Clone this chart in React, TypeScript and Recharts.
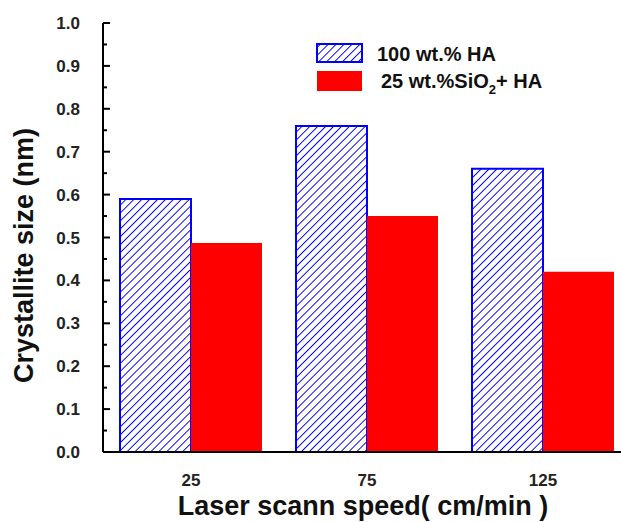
import React from 'react';
import { BarChart, Bar, XAxis, YAxis } from 'recharts';

const speeds = ['25', '75', '125'];
const ha100 = [0.59, 0.76, 0.66];
const sio2Ha = [0.487, 0.55, 0.42];
const yTicks = [0, 0.05, 0.1, 0.15, 0.2, 0.25, 0.3, 0.35, 0.4, 0.45, 0.5, 0.55, 0.6, 0.65, 0.7, 0.75, 0.8, 0.85, 0.9, 0.95, 1.0];
const majorTicks = [0, 0.1, 0.2, 0.3, 0.4, 0.5, 0.6, 0.7, 0.8, 0.9, 1.0];
const seriesKeys = ['ha', 'sio'];

const data = speeds.map((s, i) => ({ speed: s, ha: ha100[i], sio: sio2Ha[i] }));

const FONT = '"Liberation Sans", Arial, sans-serif';

const YTick = (props: any) => {
  const { x, y, payload } = props;
  const v = payload.value;
  const major = majorTicks.some((m) => Math.abs(m - v) < 1e-6);
  return (
    <g>
      <line x1={x} x2={x + (major ? 7 : 4)} y1={y} y2={y} stroke="#000" strokeWidth={2} />
      {major && (
        <text x={x - 23} y={y + 6} textAnchor="end" fontFamily={FONT} fontWeight="bold" fontSize={17} fill="#222">
          {v.toFixed(1)}
        </text>
      )}
    </g>
  );
};

const XTick = (props: any) => {
  const { x, y, payload } = props;
  return (
    <text x={x} y={y + 26} textAnchor="middle" fontFamily={FONT} fontWeight="bold" fontSize={17} fill="#222">
      {payload.value}
    </text>
  );
};

const LegendBox = () => {
  return (
    <svg width={290} height={60} style={{ display: 'block' }}>
      <defs>
        <pattern id="hatchL" patternUnits="userSpaceOnUse" width="5.6" height="5.6" patternTransform="rotate(45)">
          <line x1="0" y1="0" x2="0" y2="5.6" stroke="#0000ff" strokeWidth="1.9" />
        </pattern>
      </defs>
      {seriesKeys.map((key, i) => {
        const isHa = key === 'ha';
        const ry = 4 + i * 27;
        return (
          <g key={key}>
            <rect x={1} y={ry} width={45} height={isHa ? 18 : 20} fill={isHa ? 'url(#hatchL)' : '#ff0000'} stroke={isHa ? '#0000ff' : 'none'} strokeWidth={2} />
            {isHa ? (
              <text x={61} y={ry + 17} fontFamily={FONT} fontWeight="bold" fontSize={20} fill="#111">
                100 wt.% HA
              </text>
            ) : (
              <text x={65} y={ry + 17} fontFamily={FONT} fontWeight="bold" fontSize={20} fill="#111">
                25 wt.%SiO<tspan fontSize={13} dy={6}>2</tspan><tspan dy={-6}>+ HA</tspan>
              </text>
            )}
          </g>
        );
      })}
    </svg>
  );
};

const YLabel = (props: any) => {
  const { viewBox } = props;
  const cx = 33;
  const cy = viewBox.y + viewBox.height / 2 + 18;
  return (
    <text x={cx} y={cy} transform={`rotate(-90, ${cx}, ${cy})`} textAnchor="middle" fontFamily={FONT} fontWeight="bold" fontSize={27} fill="#111">
      Crystallite size (nm)
    </text>
  );
};

const XLabel = (props: any) => {
  const { viewBox } = props;
  const cx = viewBox.x + viewBox.width / 2 - 4;
  return (
    <text x={cx} y={viewBox.y + 63} textAnchor="middle" fontFamily={FONT} fontWeight="bold" fontSize={27} fill="#111">
      Laser scann speed( cm/min )
    </text>
  );
};

export default function App() {
  return (
    <div style={{ position: 'absolute', left: 0, top: 0, width: 621, height: 522, overflow: 'hidden', background: '#fff' }}>
      <BarChart
        width={641}
        height={522}
        data={data}
        margin={{ top: 23, right: 10, bottom: 0, left: 0 }}
        barGap={0}
        barSize={71}
      >
        <defs>
          <pattern id="hatch" patternUnits="userSpaceOnUse" width="5.6" height="5.6" patternTransform="rotate(45)">
            <line x1="0" y1="0" x2="0" y2="5.6" stroke="#0000ff" strokeWidth="1.9" />
          </pattern>
        </defs>
        <XAxis
          dataKey="speed"
          xAxisId="bottom"
          height={70}
          axisLine={{ stroke: '#000', strokeWidth: 2 }}
          tickLine={false}
          tick={<XTick />}
          interval={0}
          label={<XLabel />}
        />
        <XAxis dataKey="speed" xAxisId="top" orientation="top" height={0} axisLine={{ stroke: '#000', strokeWidth: 2 }} tick={false} tickLine={false} />
        <YAxis
          width={103}
          domain={[0, 1]}
          ticks={yTicks}
          interval={0}
          tickSize={0}
          tickMargin={0}
          tickLine={false}
          axisLine={{ stroke: '#000', strokeWidth: 2 }}
          tick={<YTick />}
          label={<YLabel />}
          allowDecimals
        />
        <Bar xAxisId="bottom" dataKey="ha" name="100 wt.% HA" fill="url(#hatch)" stroke="#0000ff" strokeWidth={2} isAnimationActive={false} />
        <Bar xAxisId="bottom" dataKey="sio" name="25 wt.%SiO2+ HA" fill="#ff0000" isAnimationActive={false} />
      </BarChart>
      <div style={{ position: 'absolute', left: 316, top: 40 }}>
        <LegendBox />
      </div>
    </div>
  );
}
